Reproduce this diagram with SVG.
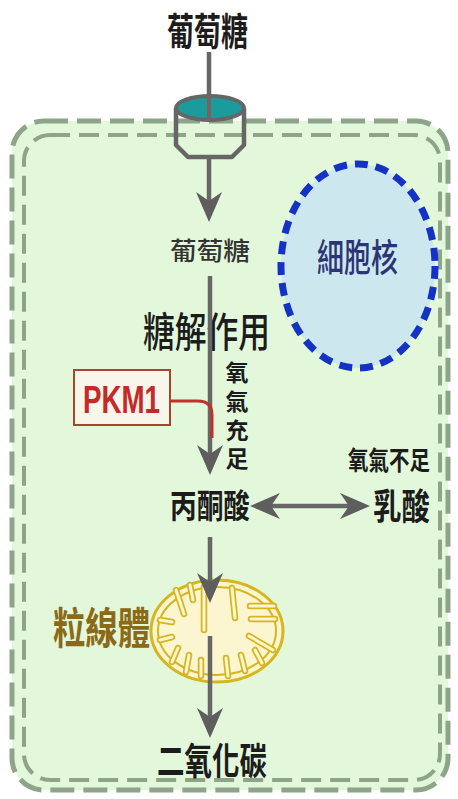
<svg xmlns="http://www.w3.org/2000/svg" width="458" height="799" viewBox="0 0 458 799">
  <style>
    .cjk { font-family: "Noto Sans CJK TC", "Noto Sans CJK SC", sans-serif; fill: #1c1c1c; }
    .b { font-weight: 700; }
    .m { font-weight: 500; }
    .flow { stroke: #676767; stroke-width: 4.5; fill: none; }
    .crista { stroke: #d6b521; stroke-width: 6.5; stroke-linecap: round; fill: none; }
    .crista-in { stroke: #fbf6d0; stroke-width: 3; stroke-linecap: round; fill: none; }
  </style>
  <defs>
    <marker id="head" viewBox="0 0 30 26" refX="24" refY="13" markerWidth="30" markerHeight="26" markerUnits="userSpaceOnUse" orient="auto-start-reverse">
      <path d="M0,0 L30,13 L0,26 L9,13 z" fill="#5e5e5e"/>
    </marker>
    <g id="cristae">
      <path d="M176,590 L184,614"/>
      <path d="M204,587 L204,630"/>
      <path d="M232,588 L235,618"/>
      <path d="M274,606 L250,606"/>
      <path d="M275,619 L251,619"/>
      <path d="M273,650 L249,636"/>
      <path d="M172,662 L178,648"/>
      <path d="M186,672 L189,655"/>
      <path d="M201,676 L201,660"/>
      <path d="M228,676 L226,658"/>
      <path d="M245,671 L241,655"/>
      <path d="M262,663 L255,650"/>
      <path d="M160,620 L172,622"/>
      <path d="M160,640 L172,637"/>
      <path d="M190,585 L193,600"/>
    </g>
  </defs>

  <rect width="458" height="799" fill="#ffffff"/>

  <!-- cell with double dashed membrane -->
  <g id="cell">
    <rect x="12" y="121" width="436" height="669" rx="32" fill="#e3f8da" stroke="#8da489" stroke-width="5" stroke-dasharray="24 9"/>
    <rect x="24" y="135" width="416" height="645" rx="26" fill="none" stroke="#8da489" stroke-width="4" stroke-dasharray="20 9"/>
  </g>

  <!-- nucleus -->
  <g id="nucleus">
    <ellipse cx="358" cy="266" rx="77" ry="102" fill="#cde7ee" stroke="#1433c4" stroke-width="7" stroke-dasharray="13 8"/>
    <text class="cjk m" x="317" y="271" font-size="38" textLength="81" lengthAdjust="spacingAndGlyphs" style="fill:#2b3575">細胞核</text>
  </g>

  <!-- mitochondrion -->
  <g id="mitochondrion">
    <ellipse cx="217" cy="631" rx="66" ry="51" fill="#fbf6d0" stroke="#d6b521" stroke-width="3"/>
    <ellipse cx="217" cy="631" rx="59" ry="44" fill="none" stroke="#d6b521" stroke-width="2"/>
    <use href="#cristae" class="crista"/>
    <use href="#cristae" class="crista-in"/>
    <text class="cjk b" x="53" y="644" font-size="43" textLength="97" lengthAdjust="spacingAndGlyphs" style="fill:#8a6a16">粒線體</text>
  </g>

  <!-- labels -->
  <g id="glucose-out">
    <text class="cjk b" x="167" y="45" font-size="38" textLength="81" lengthAdjust="spacingAndGlyphs">葡萄糖</text>
  </g>
  <g id="glucose-in">
    <text class="cjk m" x="170" y="260" font-size="25" textLength="80" lengthAdjust="spacingAndGlyphs" style="fill:#333333">葡萄糖</text>
  </g>
  <g id="glycolysis">
    <text class="cjk m" x="143" y="347" font-size="41" textLength="127" lengthAdjust="spacingAndGlyphs">糖解作用</text>
  </g>
  <g id="oxygen-enough">
    <text class="cjk b" x="237" y="361" font-size="23" writing-mode="vertical-rl" textLength="109" lengthAdjust="spacing">氧氣充足</text>
  </g>
  <g id="pkm1">
    <rect x="74" y="370" width="96" height="55" fill="#f7f6ea" stroke="#a4452e" stroke-width="2"/>
    <text x="83" y="413" font-family="Liberation Sans, Arial, sans-serif" font-weight="700" font-size="38" textLength="77" lengthAdjust="spacingAndGlyphs" fill="#c42a2a">PKM1</text>
  </g>
  <g id="pyruvate">
    <text class="cjk b" x="170" y="518" font-size="33" textLength="80" lengthAdjust="spacingAndGlyphs">丙酮酸</text>
  </g>
  <g id="oxygen-low">
    <text class="cjk b" x="348" y="470" font-size="26" textLength="82" lengthAdjust="spacingAndGlyphs">氧氣不足</text>
  </g>
  <g id="lactate">
    <text class="cjk b" x="373" y="520" font-size="36" textLength="57" lengthAdjust="spacingAndGlyphs">乳酸</text>
  </g>
  <g id="co2">
    <text class="cjk b" x="157" y="775" font-size="37" textLength="110" lengthAdjust="spacingAndGlyphs">二氧化碳</text>
  </g>

  <!-- connectors -->
  <g id="connectors">
    <path class="flow" d="M209,52 L209,122"/>
    <path class="flow" d="M209,157 L209,216" marker-end="url(#head)"/>
    <path class="flow" d="M210,276 L210,469" marker-end="url(#head)"/>
    <path d="M170,401 L198,401 Q212,401 212,415 L212,438" fill="none" stroke="#c2302a" stroke-width="3"/>
    <path class="flow" d="M256,506 L364,506" marker-start="url(#head)" marker-end="url(#head)"/>
    <path class="flow" d="M210,537 L210,597" marker-end="url(#head)"/>
    <path class="flow" d="M210,636 L210,732" marker-end="url(#head)"/>
  </g>

  <!-- glucose transporter in the membrane -->
  <g id="transporter">
    <path d="M176,108 L176,145 L188,157 L232,157 L244,145 L244,108" fill="none" stroke="#666666" stroke-width="4.5" stroke-linejoin="round"/>
    <ellipse cx="210" cy="108" rx="34" ry="12" fill="#1b9c9c" stroke="#666666" stroke-width="4"/>
    <path d="M209,96 L209,121" stroke="#7a6060" stroke-width="4"/>
  </g>
</svg>
